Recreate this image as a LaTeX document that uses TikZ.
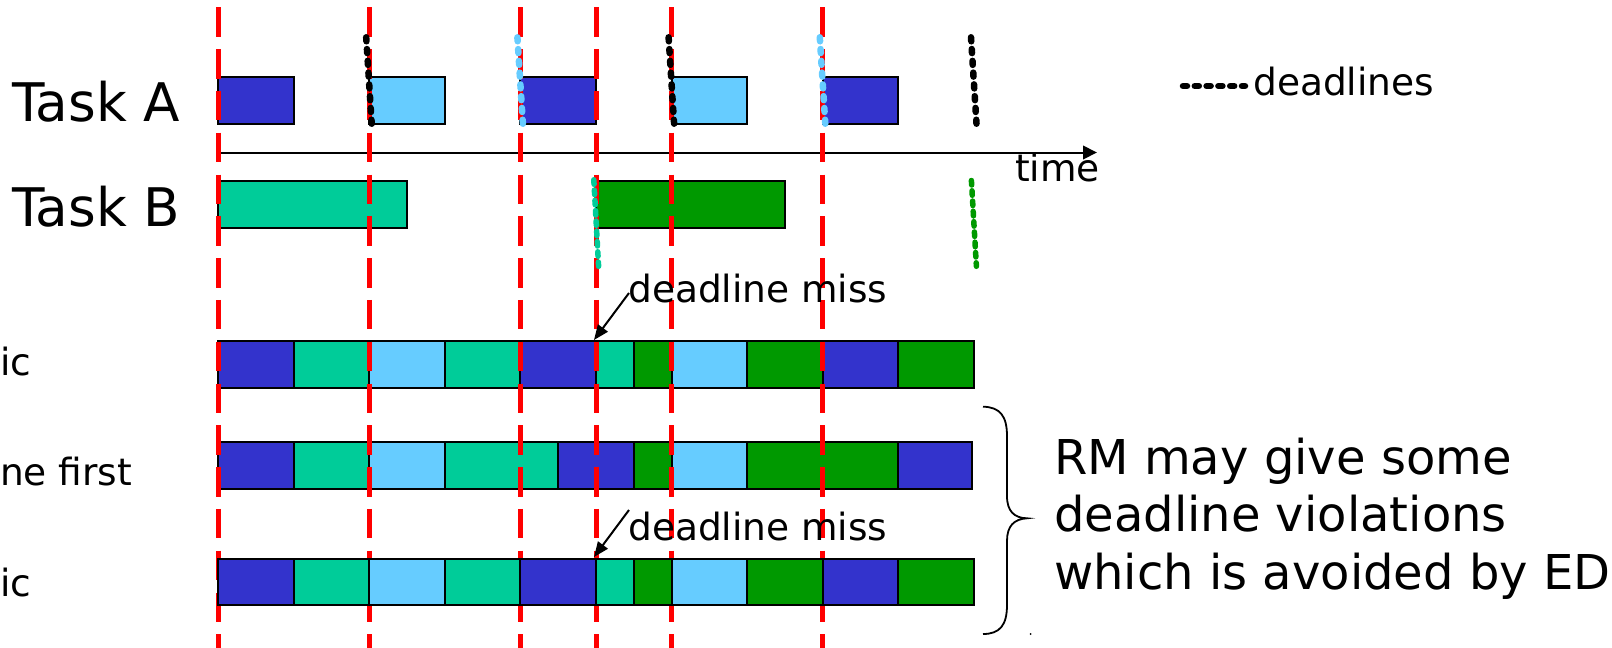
\documentclass[tikz,border=0pt]{standalone}
\usepackage{fontspec}
\setmainfont{DejaVu Sans}
\usetikzlibrary{arrows.meta}
\definecolor{jobA}{HTML}{3333CC}
\definecolor{jobAb}{HTML}{66CCFF}
\definecolor{jobB}{HTML}{00CC99}
\definecolor{jobBb}{HTML}{009900}
\definecolor{tickred}{HTML}{FF0000}
% one execution slot: colour, start time, top edge, end time
\newcommand\jobseg[4]{\filldraw[seg,fill=#1] ({218+75.6*#2},#3) rectangle ({218+75.6*#4},{#3+46.5});}
\begin{document}
\begin{tikzpicture}[x=1pt,y=-1pt,
  seg/.style={draw=black,line width=2pt},
  redline/.style={draw=tickred,line width=5pt,dash pattern=on 29.5pt off 12.3pt},
  dlA/.style={line width=6.5pt,line cap=round,dash pattern=on 4pt off 7.8pt},
  dlB/.style={line width=5.5pt,line cap=round,dash pattern=on 4.5pt off 5.8pt},
  lbl/.style={inner sep=0pt,anchor=base west},
  big/.style={lbl,font=\fontsize{53.2}{64}\selectfont},
  small/.style={lbl,font=\fontsize{37.5}{45}\selectfont},
  note/.style={lbl,font=\fontsize{48}{57}\selectfont},
  axis/.style={line width=2pt,-{Triangle[length=14pt,width=13.5pt]}},
  missarrow/.style={line width=2pt,-{Triangle[length=15pt,width=12pt]}},
  brace/.style={line width=1.8pt}]
\useasboundingbox (0,0) rectangle (1612,648);

% task A jobs
\jobseg{jobA}{0}{77}{1}
\jobseg{jobAb}{2}{77}{3}
\jobseg{jobA}{4}{77}{5}
\jobseg{jobAb}{6}{77}{7}
\jobseg{jobA}{8}{77}{9}
% task B jobs
\jobseg{jobB}{0}{181}{2.5}
\jobseg{jobBb}{5}{181}{7.5}

% time axis
\coordinate (t0) at (218,152.5);
\coordinate (tend) at (1097,152.5);
\draw[axis] (t0) -- (tend);

% schedule 1
\jobseg{jobA}{0}{341}{1}
\jobseg{jobB}{1}{341}{2}
\jobseg{jobAb}{2}{341}{3}
\jobseg{jobB}{3}{341}{4}
\jobseg{jobA}{4}{341}{5}
\jobseg{jobB}{5}{341}{5.5}
\jobseg{jobBb}{5.5}{341}{6}
\jobseg{jobAb}{6}{341}{7}
\jobseg{jobBb}{7}{341}{8}
\jobseg{jobA}{8}{341}{9}
\jobseg{jobBb}{9}{341}{10}
% schedule 2
\jobseg{jobA}{0}{442}{1}
\jobseg{jobB}{1}{442}{2}
\jobseg{jobAb}{2}{442}{3}
\jobseg{jobB}{3}{442}{4.5}
\jobseg{jobA}{4.5}{442}{5.5}
\jobseg{jobBb}{5.5}{442}{6}
\jobseg{jobAb}{6}{442}{7}
\jobseg{jobBb}{7}{442}{9}
\jobseg{jobA}{9}{442}{9.97}

% release instants
\foreach \t in {0,2,4,5,6,8}
  \draw[redline] ({218+75.6*\t},7.3) -- ({218+75.6*\t},660);

% schedule 3
\jobseg{jobA}{0}{558.5}{1}
\jobseg{jobB}{1}{558.5}{2}
\jobseg{jobAb}{2}{558.5}{3}
\jobseg{jobB}{3}{558.5}{4}
\jobseg{jobA}{4}{558.5}{5}
\jobseg{jobB}{5}{558.5}{5.5}
\jobseg{jobBb}{5.5}{558.5}{6}
\jobseg{jobAb}{6}{558.5}{7}
\jobseg{jobBb}{7}{558.5}{8}
\jobseg{jobA}{8}{558.5}{9}
\jobseg{jobBb}{9}{558.5}{10}

% deadlines
\foreach \t/\c in {2/black,4/jobAb,6/black,8/jobAb,10/black}
  \draw[dlA,draw=\c] ({218+75.6*\t-3},37.3) -- ({218+75.6*\t+2.5},123.7);
\draw[dlB,draw=jobB] (593.8,179.8) -- (598.6,266.3);
\draw[dlB,draw=jobBb] (971.4,180.5) -- (976.4,266.3);

% labels
\node[big] (taskA) at (12,121.7) {Task A};
\node[big] (taskB) at (12,226.7) {Task B};
\node[small] (time) at (1015,181.7) {time};
\node[small] (legend) at (1253,95) {deadlines};
\coordinate (lg0) at (1183,86);
\coordinate (lg1) at (1245,86);
\draw[dlA] (lg0) -- (lg1);
\node[small] (rowA) at (0,375) {ic};
\node[small] (rowB) at (0,485) {ne first};
\node[small] (rowC) at (0,596.7) {ic};

% missed deadlines
\node[small] (miss1) at (628,302.7) {deadline miss};
\node[small] (miss2) at (628,540.7) {deadline miss};
\coordinate (m1s) at (629,293);
\coordinate (m1e) at (594,340);
\coordinate (m2s) at (629,510);
\coordinate (m2e) at (594,557);
\draw[missarrow] (m1s) -- (m1e);
\draw[missarrow] (m2s) -- (m2e);

% brace and remark
\coordinate (brtop) at (983,406.7);
\coordinate (brtip) at (1027,518.3);
\coordinate (brbot) at (983,634);
\draw[brace] (brtop) .. controls (1000,407) and (1007,416) .. (1007,436)
  -- (1007,496) .. controls (1007,511) and (1014,518) .. (brtip)
  .. controls (1014,519) and (1007,526) .. (1007,541)
  -- (1007,605) .. controls (1007,625) and (1000,634) .. (brbot);
\fill (1030.7,634) circle (1pt);
\node[note] (note1) at (1054,474.3) {RM may give some};
\node[note] (note2) at (1054,531.7) {deadline violations};
\node[note] (note3) at (1054,589) {which is avoided by ED};
\end{tikzpicture}
\end{document}
